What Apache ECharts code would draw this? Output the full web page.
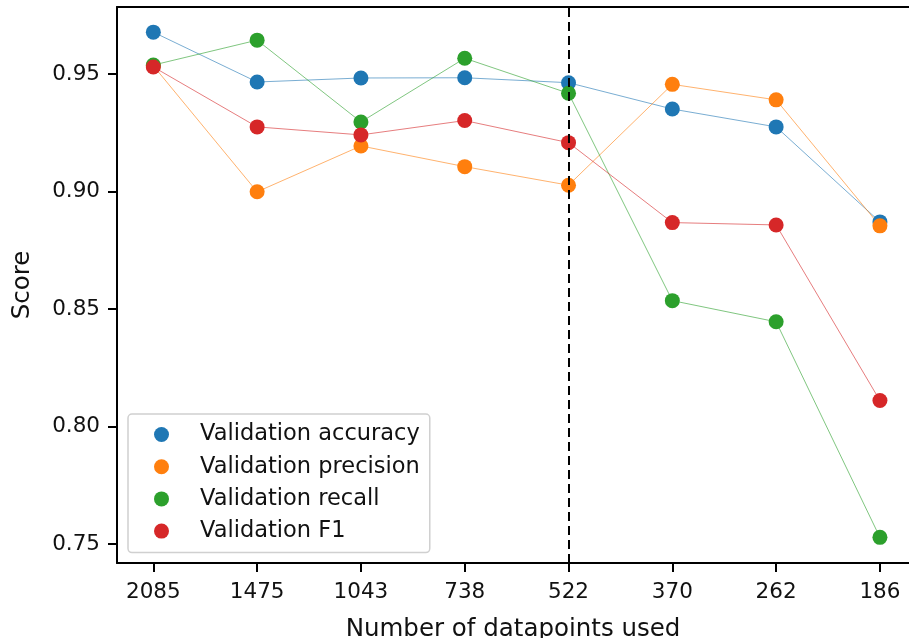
<!DOCTYPE html>
<html>
<head>
<meta charset="utf-8">
<script src="https://cdn.jsdelivr.net/npm/echarts@6/dist/echarts.min.js"></script>
<style>
html,body{margin:0;padding:0;background:#fff;}
#chart{width:909px;height:638px;}
</style>
</head>
<body>
<div id="chart"></div>
<script>
/* =================================
   数据
================================= */

const categories=["2085","1475","1043","738","522","370","262","186"];

const accuracy=[0.9678,0.9466,0.9483,0.9484,0.9463,0.9351,0.9275,0.8871];
const precision=[0.9535,0.8999,0.9194,0.9106,0.9027,0.9456,0.9390,0.8854];
const recall=[0.9538,0.9644,0.9296,0.9567,0.9418,0.8536,0.8446,0.7529];
const f1=[0.9530,0.9275,0.9241,0.9302,0.9208,0.8868,0.8858,0.8111];

const yTicks=[0.75,0.80,0.85,0.90,0.95];

const cutoffIndex=4;   // 522

const seriesNames=["Validation accuracy","Validation precision","Validation recall","Validation F1"];
const seriesColors=["#1f77b4","#ff7f0e","#2ca02c","#d62728"];


/* =================================
   图表
================================= */

const font="DejaVu Sans";
const ink="#111";

function toPairs(arr){
return arr.map((v,i)=>[i,v]);
}

function makeSeries(name,values,color,withCutoff){
let s={
name:name,
type:"line",
data:toPairs(values),
symbol:"circle",
symbolSize:15,
itemStyle:{color:color},
lineStyle:{color:color,width:1,opacity:0.6},
emphasis:{disabled:true},
animation:false
};
if(withCutoff){
s.markLine={
silent:true,
symbol:["none","none"],
label:{show:false},
lineStyle:{color:"#000",type:[9,5],width:2,opacity:1},
data:[{xAxis:cutoffIndex}],
z:10
};
}
return s;
}

let chart=echarts.init(document.getElementById("chart"),null,{renderer:"canvas"});

let xIdx=categories.map((c,i)=>i);

chart.setOption({
backgroundColor:"#fff",
animation:false,
grid:{left:117,top:7,right:0,bottom:75,containLabel:false,outerBoundsMode:"none"},
legend:{
orient:"vertical",
left:128,
top:414,
icon:"circle",
itemWidth:15,
itemHeight:15,
itemGap:9.2,
padding:[9,10,10,26],
borderColor:"#d0d0d0",
borderWidth:1.5,
borderRadius:4,
backgroundColor:"rgba(255,255,255,0.8)",
textStyle:{fontFamily:font,fontSize:22.5,color:ink,padding:[0,0,0,26]},
data:seriesNames
},
xAxis:[
{
type:"value",
min:-0.35,
max:7.28,
axisLine:{show:true,onZero:false,lineStyle:{color:"#000",width:2}},
axisTick:{show:true,customValues:xIdx,length:9,inside:false,lineStyle:{color:"#000",width:2}},
axisLabel:{customValues:xIdx,margin:18,fontFamily:font,fontSize:21.5,color:ink,
formatter:v=>categories[Math.round(v)]},
splitLine:{show:false},
name:"Number of datapoints used",
nameLocation:"middle",
nameGap:54,
nameTextStyle:{fontFamily:font,fontSize:24.5,color:ink}
},
{
type:"value",
position:"top",
min:-0.35,
max:7.28,
axisLine:{show:true,onZero:false,lineStyle:{color:"#000",width:2}},
axisTick:{show:false},
axisLabel:{show:false},
splitLine:{show:false}
}
],
yAxis:{
type:"value",
min:0.742,
max:0.9785,
axisLine:{show:true,onZero:false,lineStyle:{color:"#000",width:2}},
axisTick:{show:true,customValues:yTicks,length:9,lineStyle:{color:"#000",width:2}},
axisLabel:{customValues:yTicks,margin:17,fontFamily:font,fontSize:21.5,color:ink,
formatter:v=>v.toFixed(2)},
splitLine:{show:false},
name:"Score",
nameLocation:"middle",
nameGap:82,
nameRotate:90,
nameTextStyle:{fontFamily:font,fontSize:24.5,color:ink}
},
series:[
makeSeries(seriesNames[0],accuracy,seriesColors[0],false),
makeSeries(seriesNames[1],precision,seriesColors[1],false),
makeSeries(seriesNames[2],recall,seriesColors[2],false),
makeSeries(seriesNames[3],f1,seriesColors[3],true)
]
});
</script>
</body>
</html>
